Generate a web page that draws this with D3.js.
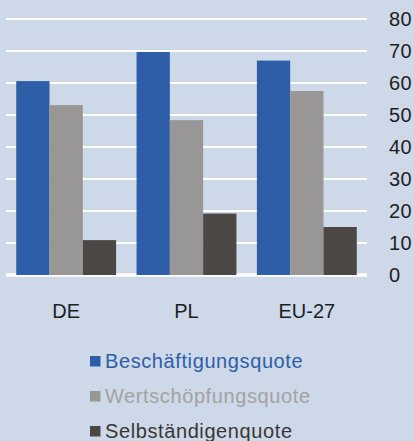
<!DOCTYPE html>
<html>
<head>
<meta charset="utf-8">
<script src="https://d3js.org/d3.v7.min.js"></script>
<style>
  body { margin: 0; background: #cdd8e9; }
  svg { display: block; font-family: "Liberation Sans", Arial, sans-serif; }
</style>
</head>
<body>
<svg id="chart" width="414" height="441"></svg>
<script>
// data
var categories = ["DE", "PL", "EU-27"];
var seriesNames = ["Beschäftigungsquote", "Wertschöpfungsquote", "Selbständigenquote"];
var beschaeftigung = [60.6, 69.7, 67.0];
var wertschoepfung = [53.1, 48.4, 57.5];
var selbstaendig = [10.9, 19.2, 15.0];
var yTicks = [0, 10, 20, 30, 40, 50, 60, 70, 80];
var colors = ["#2f5ea8", "#989796", "#4b4745"];
var textColors = ["#2f5ea8", "#a3a2a1", "#3a3635"];

var series = [beschaeftigung, wertschoepfung, selbstaendig];

var svg = d3.select("#chart");

var x = d3.scaleBand().domain(categories).range([6, 367]).paddingInner(0.17).paddingOuter(0.085);
var xs = d3.scaleBand().domain(d3.range(series.length)).range([0, x.bandwidth()]);
var y = d3.scaleLinear().domain([0, 80]).range([275, 19]);

// grid lines
svg.append("g").selectAll("line").data(yTicks).enter().append("line")
  .attr("x1", 6).attr("x2", 367)
  .attr("y1", function(d) { return y(d); })
  .attr("y2", function(d) { return y(d); })
  .attr("stroke", "#ffffff")
  .attr("stroke-width", function(d) { return d === 0 ? 3.5 : 2; });

// bars
series.forEach(function(vals, s) {
  svg.append("g").selectAll("rect").data(vals).enter().append("rect")
    .attr("x", function(d, i) { return x(categories[i]) + xs(s); })
    .attr("width", xs.bandwidth())
    .attr("y", function(d) { return y(d); })
    .attr("height", function(d) { return y(0) - y(d); })
    .attr("fill", colors[s]);
});

// y tick labels on the right
svg.append("g").selectAll("text").data(yTicks).enter().append("text")
  .attr("x", 389)
  .attr("y", function(d) { return y(d); })
  .attr("dy", "0.36em")
  .attr("font-size", 20)
  .attr("letter-spacing", 0.5)
  .attr("fill", "#1e1e1e")
  .text(function(d) { return d; });

// category labels
svg.append("g").selectAll("text").data(categories).enter().append("text")
  .attr("x", function(d) { return x(d) + x.bandwidth() / 2; })
  .attr("y", 318)
  .attr("text-anchor", "middle")
  .attr("font-size", 20)
  .attr("fill", "#1e1e1e")
  .text(function(d) { return d; });

// legend
var legend = svg.append("g").selectAll("g").data(seriesNames).enter().append("g")
  .attr("transform", function(d, i) { return "translate(90," + (356 + i * 35) + ")"; });
legend.append("rect")
  .attr("width", 10.5).attr("height", 10.5)
  .attr("fill", function(d, i) { return colors[i]; });
legend.append("text")
  .attr("x", 15).attr("y", 11.5)
  .attr("font-size", 20)
  .attr("letter-spacing", 0.6)
  .attr("fill", function(d, i) { return textColors[i]; })
  .text(function(d) { return d; });
</script>
</body>
</html>
